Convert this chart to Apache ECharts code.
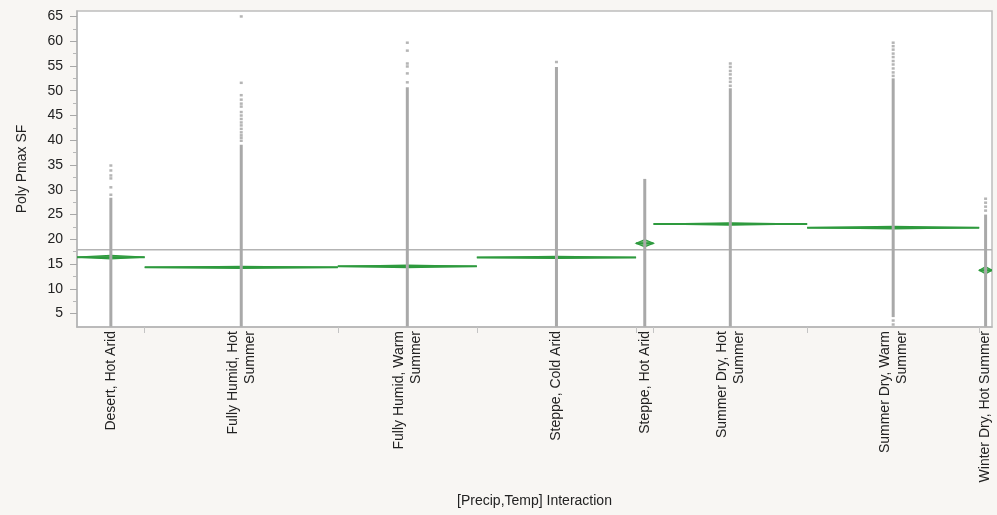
<!DOCTYPE html>
<html>
<head>
<meta charset="utf-8">
<title>Poly Pmax SF by [Precip,Temp] Interaction</title>
<script src="https://cdn.jsdelivr.net/npm/echarts@6/dist/echarts.min.js"></script>
<style>
  html, body { margin: 0; padding: 0; background: #f8f6f3; }
  #chart { width: 997px; height: 515px; }
</style>
</head>
<body>
<div id="chart"></div>
<script>
// Climate groups (precipitation, temperature)
const categories = [
  'Desert, Hot Arid',
  'Fully Humid, Hot\nSummer',
  'Fully Humid, Warm\nSummer',
  'Steppe, Cold Arid',
  'Steppe, Hot Arid',
  'Summer Dry, Hot\nSummer',
  'Summer Dry, Warm\nSummer',
  'Winter Dry, Hot Summer'
];
// Share of observations in each group (%), sets the width of each group
const groupShare = [7.4, 21.1, 15.2, 17.4, 1.9, 16.8, 18.8, 1.4];
// Group means and 95% confidence half-widths (means diamonds)
const groupMean = [16.4, 14.35, 14.55, 16.35, 19.2, 23.1, 22.35, 13.75];
const meanCI = [0.35, 0.2, 0.25, 0.2, 0.72, 0.25, 0.25, 0.72];
const grandMean = 17.9;
// Extent of the dense run of observations in each group
const denseLow = [2.4, 2.4, 2.4, 2.4, 2.4, 2.4, 4.3, 2.4];
const denseHigh = [28.4, 39.1, 50.7, 54.8, 32.2, 50.5, 52.5, 25.0];
// Scattered high observations above the dense run
const sparsePoints = [
  [29.0, 30.5, 32.3, 32.9, 33.9, 34.9],
  [39.9, 40.5, 41.0, 41.6, 42.3, 43.0, 43.6, 44.3, 45.0, 45.7, 46.8, 47.4, 48.2, 49.1, 51.6, 65.0],
  [51.7, 53.5, 54.9, 55.5, 58.1, 59.7],
  [55.8],
  [],
  [51.0, 51.8, 52.5, 53.3, 54.0, 54.8, 55.5],
  [2.8, 3.6, 53.0, 53.7, 54.5, 55.3, 56.0, 56.8, 57.5, 58.3, 59.0, 59.7],
  [25.8, 26.6, 27.4, 28.2]
];
const yTicks = [5, 10, 15, 20, 25, 30, 35, 40, 45, 50, 55, 60, 65];
const yMinorTicks = [7.5, 12.5, 17.5, 22.5, 27.5, 32.5, 37.5, 42.5, 47.5, 52.5, 57.5, 62.5];

// Group edges and centres along the x scale
const edges = [0];
groupShare.forEach(function (w, i) { edges.push(edges[i] + w); });
const xMax = edges[edges.length - 1];
const centers = groupShare.map(function (w, i) { return edges[i] + w / 2; });
const innerEdges = edges.slice(1, -1);

const FONT = '"Liberation Sans", Arial, Helvetica, sans-serif';
const GREEN = '#2e9a3e';

const diamondData = categories.map(function (c, i) {
  return [edges[i], edges[i + 1], groupMean[i], meanCI[i]];
});
const denseData = categories.map(function (c, i) {
  return [centers[i], denseLow[i], denseHigh[i]];
});
const sparseData = [];
sparsePoints.forEach(function (vals, i) {
  vals.forEach(function (v) { sparseData.push([centers[i], v]); });
});

function labelFor(v) {
  let best = 0;
  centers.forEach(function (c, i) {
    if (Math.abs(c - v) < Math.abs(centers[best] - v)) best = i;
  });
  return categories[best];
}

const chart = echarts.init(document.getElementById('chart'), null, { renderer: 'canvas' });

chart.setOption({
  backgroundColor: '#f8f6f3',
  animation: false,
  textStyle: { fontFamily: FONT },
  grid: {
    left: 77, right: 5, top: 11, bottom: 188,
    show: true, backgroundColor: '#ffffff',
    borderColor: '#bdbdbd', borderWidth: 1.5
  },
  xAxis: {
    type: 'value',
    min: 0,
    max: xMax,
    name: '[Precip,Temp] Interaction',
    nameLocation: 'middle',
    nameGap: 167,
    nameTextStyle: { fontFamily: FONT, fontSize: 14, color: '#222' },
    axisLine: { show: true, lineStyle: { color: '#b5b5b5', width: 1.5 } },
    axisTick: {
      show: true, length: 6, customValues: innerEdges,
      lineStyle: { color: '#c4c4c4', width: 1 }
    },
    axisLabel: {
      show: true,
      customValues: centers,
      rotate: 90,
      margin: 4,
      fontFamily: FONT,
      fontSize: 14,
      lineHeight: 17,
      color: '#222',
      formatter: function (v) { return labelFor(v); }
    },
    splitLine: { show: false }
  },
  yAxis: [
    {
      type: 'value',
      min: 2.3,
      max: 66.1,
      name: 'Poly Pmax SF',
      nameLocation: 'middle',
      nameGap: 48,
      nameTextStyle: { fontFamily: FONT, fontSize: 14, color: '#222' },
      axisLine: { show: true, lineStyle: { color: '#b5b5b5', width: 1.5 } },
      axisTick: {
        show: true, length: 7, customValues: yTicks,
        lineStyle: { color: '#a8a8a8', width: 1 }
      },
      axisLabel: {
        show: true, customValues: yTicks, margin: 14,
        fontFamily: FONT, fontSize: 14, color: '#222'
      },
      splitLine: { show: false }
    },
    {
      type: 'value',
      min: 2.3,
      max: 66.1,
      position: 'left',
      axisLine: { show: false },
      axisTick: {
        show: true, length: 4, customValues: yMinorTicks,
        lineStyle: { color: '#b8b8b8', width: 1 }
      },
      axisLabel: { show: false },
      splitLine: { show: false }
    }
  ],
  series: [
    {
      // means diamonds
      type: 'custom',
      z: 2,
      clip: true,
      data: diamondData,
      renderItem: function (params, api) {
        const x0 = api.value(0), x1 = api.value(1);
        const m = api.value(2), ci = api.value(3);
        const xc = (x0 + x1) / 2;
        const pL = api.coord([x0, m]);
        const pR = api.coord([x1, m]);
        const pT = api.coord([xc, m + ci]);
        const pB = api.coord([xc, m - ci]);
        return {
          type: 'group',
          children: [
            {
              type: 'polygon',
              shape: { points: [pL, pT, pR, pB] },
              style: { fill: '#7cc47e', stroke: GREEN, lineWidth: 1.2 }
            },
            {
              type: 'line',
              shape: { x1: pL[0], y1: pL[1], x2: pR[0], y2: pR[1] },
              style: { stroke: GREEN, lineWidth: 2 }
            }
          ]
        };
      }
    },
    {
      // grand mean
      type: 'line',
      z: 3,
      data: [[0, grandMean], [xMax, grandMean]],
      symbol: 'none',
      lineStyle: { color: '#b3b3b3', width: 1.5 },
      silent: true
    },
    {
      // dense run of observations
      type: 'custom',
      z: 4,
      clip: true,
      data: denseData,
      renderItem: function (params, api) {
        const a = api.coord([api.value(0), api.value(1)]);
        const b = api.coord([api.value(0), api.value(2)]);
        return {
          type: 'line',
          shape: { x1: a[0], y1: a[1], x2: b[0], y2: b[1] },
          style: { stroke: '#a9a9a9', lineWidth: 3 }
        };
      }
    },
    {
      // scattered observations
      type: 'scatter',
      z: 5,
      data: sparseData,
      symbol: 'rect',
      symbolSize: [3, 2.5],
      itemStyle: { color: '#a2a2a2' },
      silent: true
    }
  ]
});
</script>
</body>
</html>
